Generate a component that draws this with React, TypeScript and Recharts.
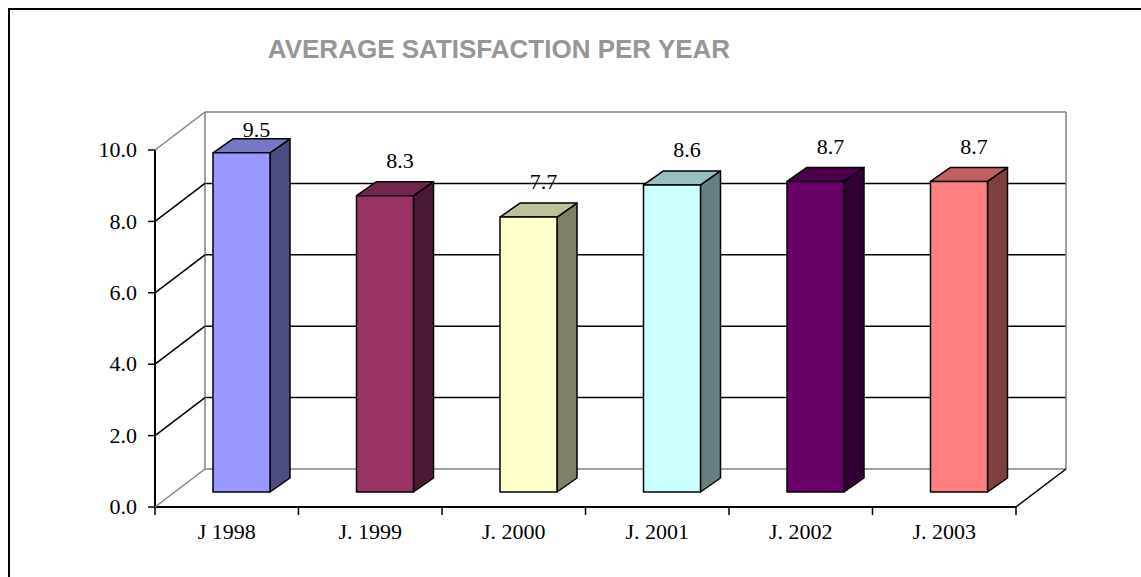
import React from "react"
import { BarChart, Bar, XAxis, YAxis, CartesianGrid, LabelList } from "recharts"

const categories = ["J 1998", "J. 1999", "J. 2000", "J. 2001", "J. 2002", "J. 2003"]
const satisfaction = [9.5, 8.3, 7.7, 8.6, 8.7, 8.7]
const yTicks = [0, 2, 4, 6, 8, 10]

const data = categories.map((name, i) => ({ name, value: satisfaction[i] }))

// front, top, side shades (Excel 3D look)
const COLORS = [
  ["#9999FF", "#7777C6", "#4C4C80"],
  ["#993366", "#73264D", "#4C1933"],
  ["#FFFFCC", "#C0C099", "#808066"],
  ["#CCFFFF", "#99C0C0", "#668080"],
  ["#660066", "#4C004C", "#330033"],
  ["#FF8080", "#C06060", "#804040"],
]

const W = 1141
const H = 577
const PLOT_LEFT = 155
const PLOT_RIGHT = 1016
const PLOT_TOP = 150
const PLOT_BOTTOM = 507
const DX = 50 // wall depth
const DY = -38
const BAR_OFF_X = 15 // bar sits a bit into the depth
const BAR_OFF_Y = -15
const SIDE_X = 20
const SIDE_Y = -14
const SERIF = "'Liberation Serif', 'Times New Roman', serif"
const GRAY = "#808080"
const serifText = { fontFamily: SERIF, fontSize: 22 }

const Bar3D = (props: any) => {
  const { x, y, width, height, index } = props
  const [front, top, side] = COLORS[index % COLORS.length]
  const fx = x + BAR_OFF_X
  const fy = y + BAR_OFF_Y
  const topPts = `${fx},${fy} ${fx + SIDE_X},${fy + SIDE_Y} ${fx + width + SIDE_X},${fy + SIDE_Y} ${fx + width},${fy}`
  const sidePts = `${fx + width},${fy} ${fx + width + SIDE_X},${fy + SIDE_Y} ${fx + width + SIDE_X},${fy + height + SIDE_Y} ${fx + width},${fy + height}`
  return (
    <g stroke="#000" strokeWidth={1.5} strokeLinejoin="round">
      <polygon points={sidePts} fill={side} />
      <polygon points={topPts} fill={top} />
      <rect x={fx} y={fy} width={width} height={height} fill={front} />
    </g>
  )
}

const renderLabel = (props: any) => {
  const { x, y, width, value } = props
  const cx = x + width / 2 + BAR_OFF_X * 2
  const cy = Math.max(y + BAR_OFF_Y - 35, PLOT_TOP - 20)
  return (
    <text x={cx} y={cy} dy="0.33em" textAnchor="middle" style={serifText} fill="#000">
      {Number(value).toFixed(1)}
    </text>
  )
}

const YTick = (props: any) => {
  const { y, payload } = props
  const v = payload.value
  const edge = v === yTicks[0] || v === yTicks[yTicks.length - 1]
  return (
    <g>
      <line x1={PLOT_LEFT} y1={y} x2={PLOT_LEFT + DX} y2={y + DY} stroke={edge ? GRAY : "#000"} strokeWidth={1.5} />
      <text x={137} y={y} dy="0.33em" textAnchor="end" style={serifText} fill="#000">
        {v.toFixed(1)}
      </text>
    </g>
  )
}

const XTick = (props: any) => {
  const { x, payload, index } = props
  const hb = (PLOT_RIGHT - PLOT_LEFT) / categories.length / 2
  return (
    <g>
      <line x1={x - hb} y1={PLOT_BOTTOM} x2={x - hb} y2={PLOT_BOTTOM + 8} stroke="#000" strokeWidth={1.5} />
      {index === categories.length - 1 && (
        <line x1={x + hb} y1={PLOT_BOTTOM} x2={x + hb} y2={PLOT_BOTTOM + 8} stroke="#000" strokeWidth={1.5} />
      )}
      <text x={x} y={PLOT_BOTTOM + 32} textAnchor="middle" style={serifText} fill="#000">
        {payload.value}
      </text>
    </g>
  )
}

const BackLine = (props: any) => {
  const { x1, x2, y1, index } = props
  const isTop = Math.abs(y1 - PLOT_TOP) < 1
  const isBottom = Math.abs(y1 - PLOT_BOTTOM) < 1
  return (
    <g key={`bl-${index}`}>
      <line
        x1={x1 + DX}
        y1={y1 + DY}
        x2={x2 + DX}
        y2={y1 + DY}
        stroke={isTop || isBottom ? GRAY : "#000"}
        strokeWidth={1.5}
      />
      {isTop && (
        <>
          <line x1={x1 + DX} y1={PLOT_TOP + DY} x2={x1 + DX} y2={PLOT_BOTTOM + DY} stroke={GRAY} strokeWidth={1.5} />
          <line x1={x2 + DX} y1={PLOT_TOP + DY} x2={x2 + DX} y2={PLOT_BOTTOM + DY} stroke={GRAY} strokeWidth={1.5} />
        </>
      )}
      {isBottom && <line x1={x2} y1={y1} x2={x2 + DX} y2={y1 + DY} stroke="#000" strokeWidth={1.5} />}
    </g>
  )
}

export default function App() {
  return (
    <div style={{ position: "absolute", left: 0, top: 0, width: W, height: H, overflow: "hidden", background: "#fff" }}>
      <div
        style={{
          position: "absolute",
          left: 8,
          top: 8,
          width: W + 100,
          height: H + 100,
          borderLeft: "2px solid #000",
          borderTop: "2px solid #000",
        }}
      />
      <div
        style={{
          position: "absolute",
          left: 0,
          top: 36,
          width: 998,
          textAlign: "center",
          fontFamily: "'Liberation Sans', Arial, sans-serif",
          fontWeight: "bold",
          fontSize: 26,
          lineHeight: "26px",
          color: "#969696",
        }}
      >
        AVERAGE SATISFACTION PER YEAR
      </div>
      <div style={{ position: "absolute", left: 0, top: 0 }}>
        <BarChart
          width={W}
          height={H}
          data={data}
          margin={{ top: PLOT_TOP, right: W - PLOT_RIGHT, bottom: 0, left: PLOT_LEFT - 60 }}
          barCategoryGap={0}
        >
          <CartesianGrid vertical={false} horizontal={BackLine} />
          <XAxis
            dataKey="name"
            height={H - PLOT_BOTTOM}
            axisLine={{ stroke: "#000", strokeWidth: 2 }}
            tickLine={false}
            tick={XTick}
            interval={0}
          />
          <YAxis
            width={60}
            domain={[0, 10]}
            ticks={yTicks}
            interval={0}
            axisLine={{ stroke: "#000", strokeWidth: 2 }}
            tickLine={{ stroke: "#000", strokeWidth: 1.5 }}
            tickSize={7}
            tick={YTick}
          />
          <Bar dataKey="value" barSize={57} shape={Bar3D} isAnimationActive={false}>
            <LabelList dataKey="value" content={renderLabel} />
          </Bar>
        </BarChart>
      </div>
    </div>
  )
}
